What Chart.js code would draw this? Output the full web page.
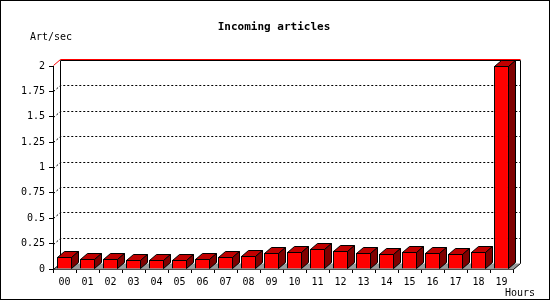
<!DOCTYPE html>
<html>
<head>
<meta charset="utf-8">
<script src="https://cdn.jsdelivr.net/npm/chart.js@4/dist/chart.umd.min.js"></script>
<style>
html, body { margin: 0; padding: 0; background: #fff; overflow: hidden; }
canvas { display: block; }
</style>
</head>
<body>
<canvas id="chart" width="550" height="300"></canvas>
<script>
const hours = ["00", "01", "02", "03", "04", "05", "06", "07", "08", "09",
    "10", "11", "12", "13", "14", "15", "16", "17", "18", "19"];
const artPerSec = [0.12, 0.10, 0.10, 0.09, 0.09, 0.09, 0.10, 0.12, 0.13, 0.16,
    0.17, 0.20, 0.18, 0.16, 0.15, 0.17, 0.16, 0.15, 0.17, 2.0];
const yTickValues = [0, 0.25, 0.5, 0.75, 1, 1.25, 1.5, 1.75, 2];

const titleText = "Incoming articles";
const yUnit = "Art/sec";
const xUnit = "Hours";

// depth of the fake 3d look
const DX = 7;
const DY = 6;
const mono = "'DejaVu Sans Mono', monospace";

const box3d = {
    id: "box3d",
    beforeDatasetsDraw(chart) {
        const ctx = chart.ctx;
        const a = chart.chartArea;
        const ys = chart.scales.y;
        const l = Math.round(a.left) + 0.5, r = Math.round(a.right) + 0.5;
        const t = Math.round(a.top) + 0.5, b = Math.round(a.bottom) + 0.5;
        ctx.save();
        ctx.lineWidth = 1;

        // floor
        ctx.fillStyle = "#999999";
        ctx.beginPath();
        ctx.moveTo(l, b);
        ctx.lineTo(r, b);
        ctx.lineTo(r + DX, b - DY);
        ctx.lineTo(l + DX, b - DY);
        ctx.closePath();
        ctx.fill();

        // dotted grid on back wall
        ctx.strokeStyle = "#000";
        ctx.setLineDash([2, 2]);
        yTickValues.forEach(v => {
            if (v <= 0 || v >= ys.max) return;
            const y = Math.round(ys.getPixelForValue(v)) + 0.5;
            ctx.beginPath();
            ctx.moveTo(l, y);
            ctx.lineTo(l + DX, y - DY);
            ctx.lineTo(r + DX, y - DY);
            ctx.stroke();
        });
        ctx.setLineDash([]);

        // back wall
        ctx.strokeStyle = "#000";
        ctx.beginPath();
        ctx.moveTo(l + DX, b - DY);
        ctx.lineTo(l + DX, t - DY);
        ctx.lineTo(r + DX, t - DY);
        ctx.lineTo(r + DX, b - DY);
        ctx.lineTo(r, b);
        ctx.moveTo(l, b);
        ctx.lineTo(l + DX, b - DY);
        ctx.stroke();

        ctx.strokeStyle = "#ff0000";
        ctx.beginPath();
        ctx.moveTo(l, t - 1);
        ctx.lineTo(l + DX, t - DY - 1);
        ctx.lineTo(r + DX, t - DY - 1);
        ctx.stroke();
        ctx.restore();
    },
    afterDatasetsDraw(chart) {
        const ctx = chart.ctx;
        const meta = chart.getDatasetMeta(0);
        ctx.save();
        ctx.lineWidth = 1;
        ctx.strokeStyle = "#000";
        meta.data.forEach(bar => {
            const p = bar.getProps(["x", "y", "base", "width"], true);
            const left = Math.round(p.x - p.width / 2) + 0.5;
            const right = Math.round(p.x + p.width / 2) - 0.5;
            const top = Math.round(p.y) + 0.5;
            const base = Math.round(p.base) - 0.5;

            ctx.fillStyle = "#c00000";
            ctx.beginPath();
            ctx.moveTo(left, top);
            ctx.lineTo(left + DX, top - DY);
            ctx.lineTo(right + DX, top - DY);
            ctx.lineTo(right, top);
            ctx.closePath();
            ctx.fill();
            ctx.stroke();

            ctx.fillStyle = "#800000";
            ctx.beginPath();
            ctx.moveTo(right, top);
            ctx.lineTo(right + DX, top - DY);
            ctx.lineTo(right + DX, base - DY);
            ctx.lineTo(right, base);
            ctx.closePath();
            ctx.fill();
            ctx.stroke();
        });

        // texts
        ctx.fillStyle = "#000";
        ctx.textBaseline = "middle";
        ctx.font = "bold 11px " + mono;
        ctx.textAlign = "center";
        ctx.fillText(titleText, 274, 27);
        ctx.font = "10px " + mono;
        ctx.textAlign = "left";
        ctx.fillText(yUnit, 30, 37);
        ctx.fillText(xUnit, 505, 293);

        // frame
        ctx.strokeRect(0.5, 0.5, 549, 299);
        ctx.restore();
    }
};

new Chart("chart", {
    type: "bar",
    data: {
        labels: hours,
        datasets: [
            {
                label: "Incoming articles",
                data: artPerSec,
                backgroundColor: "#ff0000",
                borderColor: "#000",
                borderWidth: 1,
                categoryPercentage: 1,
                barPercentage: 0.65,
            },
        ]
    },
    options: {
        responsive: false,
        animation: false,
        devicePixelRatio: 1,
        layout: {
            padding: { top: 66, right: 37, left: 0, bottom: 0 }
        },
        plugins: {
            legend: { display: false },
            tooltip: { enabled: false },
        },
        scales: {
            x: {
                afterFit: s => { s.height = 31; },
                grid: {
                    drawOnChartArea: false,
                    tickLength: 4,
                    color: "#000",
                    offset: true,
                },
                border: { color: "#000" },
                ticks: {
                    color: "#000",
                    font: { family: mono, size: 10 },
                    padding: 3,
                    maxRotation: 0,
                    autoSkip: false,
                },
            },
            y: {
                min: 0,
                max: 2,
                afterFit: s => { s.width = 53; },
                afterBuildTicks: s => { s.ticks = yTickValues.map(v => ({ value: v })); },
                grid: {
                    drawOnChartArea: false,
                    tickLength: 4,
                    color: "#000",
                },
                border: { color: "#000" },
                ticks: {
                    color: "#000",
                    font: { family: mono, size: 10 },
                    padding: 4,
                    callback: v => String(v),
                },
            }
        }
    },
    plugins: [box3d]
});
</script>
</body>
</html>
